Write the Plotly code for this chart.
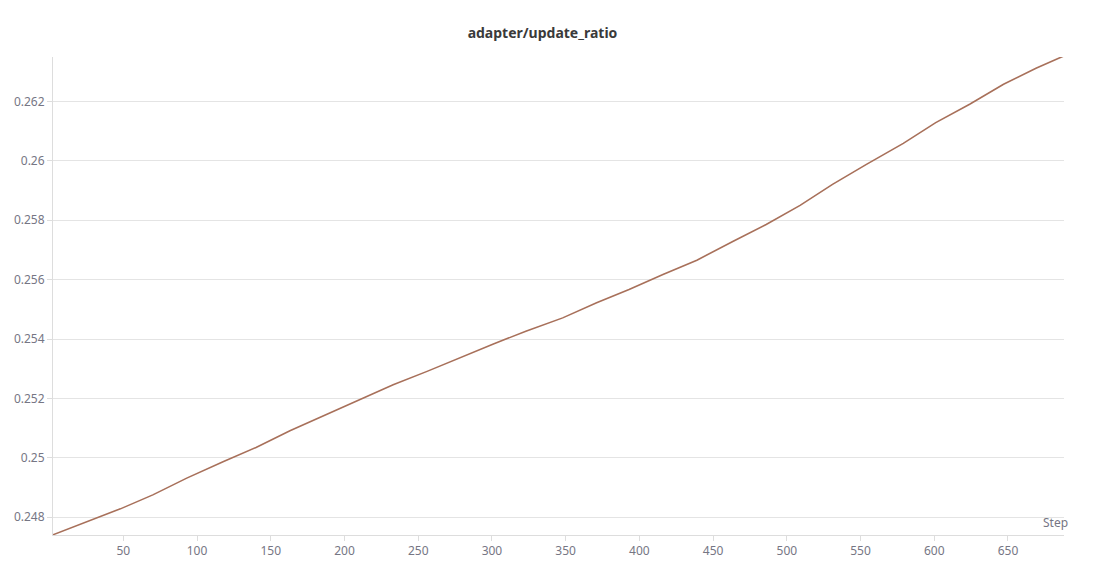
import plotly.graph_objects as go

steps = [2, 25, 48, 70, 93, 118, 140, 163, 185, 208, 233, 256, 278, 301, 323,
         348, 371, 393, 416, 439, 464, 486, 509, 531, 554, 579, 601, 624, 647,
         669, 688]
values = [0.247403, 0.247831, 0.248280, 0.248752, 0.249316, 0.249876, 0.250348,
          0.250911, 0.251394, 0.251900, 0.252463, 0.252911, 0.253364, 0.253836,
          0.254261, 0.254713, 0.255219, 0.255668, 0.256174, 0.256656, 0.257304,
          0.257860, 0.258501, 0.259209, 0.259884, 0.260592, 0.261290, 0.261908,
          0.262583, 0.263122, 0.263537]

x_ticks = [50, 100, 150, 200, 250, 300, 350, 400, 450, 500, 550, 600, 650]
y_ticks = [0.248, 0.25, 0.252, 0.254, 0.256, 0.258, 0.26, 0.262]
y_tick_text = ["0.248", "0.25", "0.252", "0.254", "0.256", "0.258", "0.26", "0.262"]

title = "adapter/update_ratio"
x_label = "Step"

font_family = "Noto Sans, Lato, sans-serif"
tick_color = "#767684"
axis_color = "#dddddd"

fig = go.Figure()
fig.add_trace(go.Scatter(
    x=steps, y=values, mode="lines",
    line=dict(color="#a8705a", width=1.6),
    showlegend=False,
))

fig.update_layout(
    width=1107, height=581,
    paper_bgcolor="white", plot_bgcolor="white",
    margin=dict(l=45, r=51, t=49, b=54, autoexpand=False),
    title=dict(text="<b>" + title + "</b>", x=534.5 / 1107, xanchor="center",
               y=1 - 25 / 581, yanchor="middle",
               font=dict(family=font_family, size=14, color="#3a3a3a")),
    font=dict(family=font_family, size=12, color=tick_color),
)

fig.update_xaxes(
    range=[2.3, 688], tickvals=x_ticks, automargin=False,
    showgrid=False, zeroline=False,
    showline=True, linecolor=axis_color, linewidth=1,
    ticks="outside", ticklen=5, tickcolor=axis_color,
    tickfont=dict(size=12, color=tick_color),
)
fig.update_yaxes(
    range=[0.24740, 0.26350], tickvals=y_ticks, ticktext=y_tick_text,
    automargin=False,
    showgrid=True, gridcolor="#e4e4e4", gridwidth=1, zeroline=False,
    showline=True, linecolor=axis_color, linewidth=1,
    ticks="outside", ticklen=5, tickcolor=axis_color,
    tickfont=dict(size=12, color=tick_color),
)

fig.add_annotation(
    text=x_label, xref="paper", yref="paper", x=1.006, y=0.005,
    xanchor="right", yanchor="bottom", showarrow=False,
    font=dict(family=font_family, size=12, color=tick_color),
)

fig.write_html("out.html")
